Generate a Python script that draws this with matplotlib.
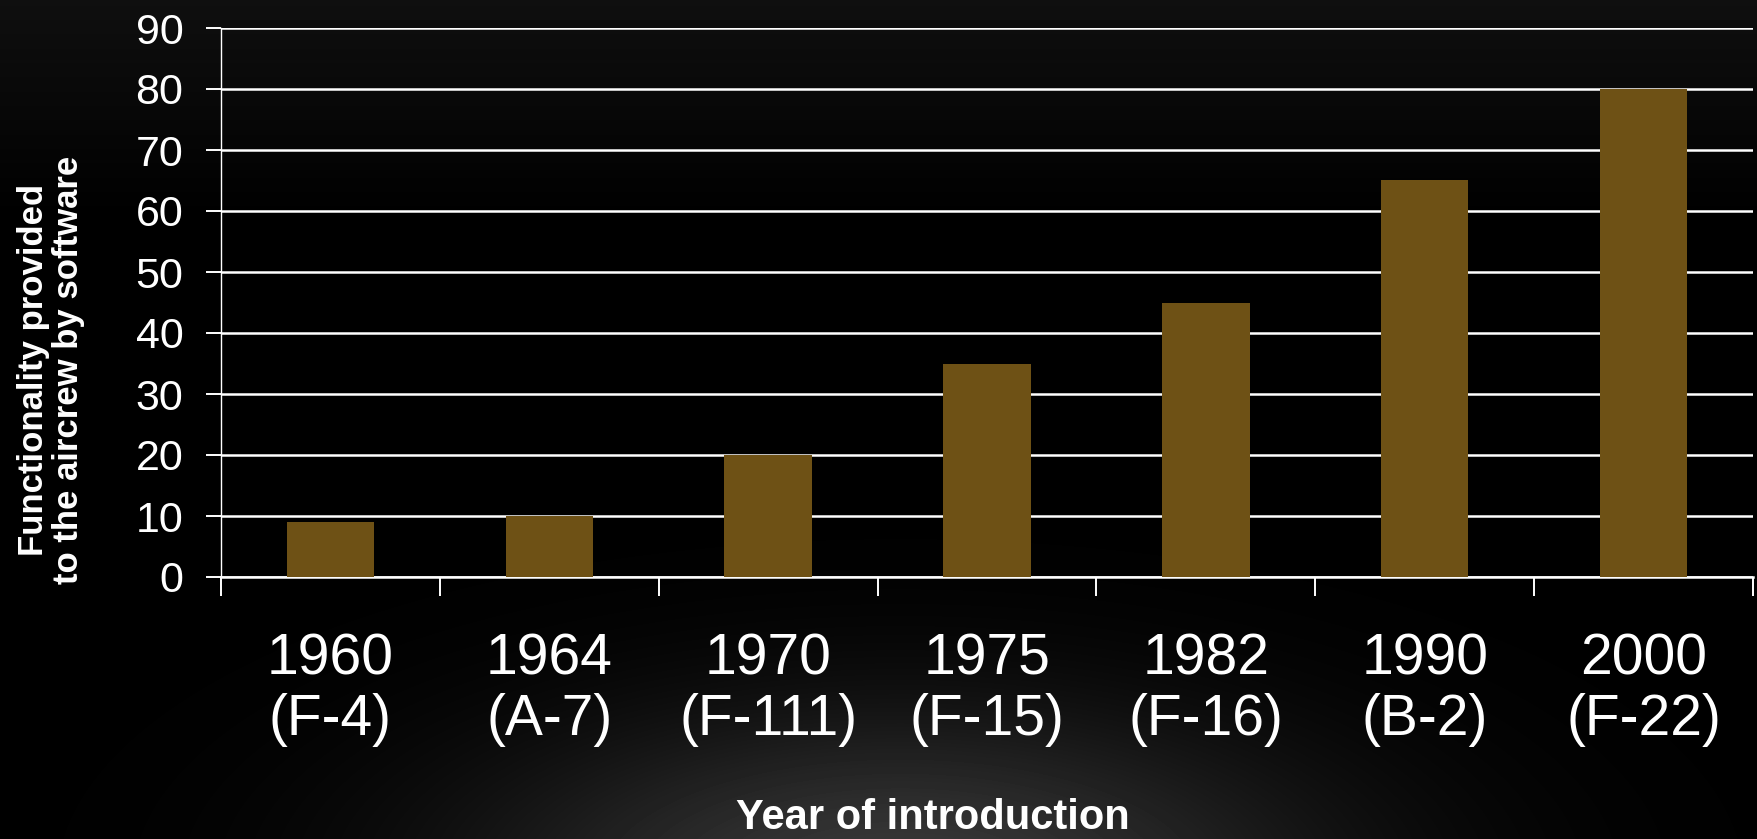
import numpy as np
import matplotlib
matplotlib.use("Agg")
import matplotlib.pyplot as plt

# ---- data ----
years = ["1960", "1964", "1970", "1975", "1982", "1990", "2000"]
aircraft = ["F-4", "A-7", "F-111", "F-15", "F-16", "B-2", "F-22"]
functionality = [9, 10, 20, 35, 45, 65, 80]

narrow = ["Liberation Sans Narrow", "Liberation Sans", "DejaVu Sans"]
wide = ["Liberation Sans", "DejaVu Sans"]

W, H = 1758, 839
fig = plt.figure(figsize=(W / 100, H / 100), dpi=100, facecolor="black")

# ---- background: dark top band + soft glow at the bottom ----
bg = fig.add_axes([0, 0, 1, 1])
bg.set_axis_off()
yy, xx = np.mgrid[0:H, 0:W]
top = 0.06 * np.clip(1 - yy / 220.0, 0, 1)
glow = 0.22 * np.exp(-(((xx - 900) / 420.0) ** 2 + ((yy - 880) / 170.0) ** 2))
img = np.clip(top + glow, 0, 1)
bg.imshow(img, cmap="gray", vmin=0, vmax=1, aspect="auto", extent=[0, 1, 0, 1])
bg.set_xlim(0, 1)
bg.set_ylim(0, 1)

# ---- chart ----
ax = fig.add_axes([221 / W, 262 / H, 1532 / W, 549 / H])
ax.patch.set_alpha(0)

x = np.arange(len(years))
ax.bar(x, functionality, width=0.4, color="#6E5115", zorder=3)

ax.set_xlim(-0.5, len(years) - 0.5)
ax.set_ylim(0, 90)
ax.set_yticks(range(0, 91, 10))
ax.grid(axis="y", color="white", linewidth=1.8, zorder=1)
ax.set_axisbelow(True)

for s in ["top", "right"]:
    ax.spines[s].set_visible(False)
ax.spines["left"].set_color("white")
ax.spines["left"].set_linewidth(1.0)
ax.spines["bottom"].set_color("white")
ax.spines["bottom"].set_linewidth(1.8)

# year labels at bar centers, tick marks between categories
ax.set_xticks(x)
ax.set_xticklabels([f"{y}\n({a})" for y, a in zip(years, aircraft)],
                   fontsize=41, family=narrow, color="white", linespacing=1.16)
ax.tick_params(axis="x", length=0, pad=40)
ax.set_xticks(np.arange(-0.5, len(years)), minor=True)
ax.tick_params(axis="x", which="minor", length=14, width=1.4, color="white")

ax.tick_params(axis="y", length=11, width=1.4, color="white", pad=16,
               labelsize=31, labelcolor="white")
for lbl in ax.get_yticklabels():
    lbl.set_family(narrow)

fig.text(51 / W, 1 - 370 / H, "Functionality provided\nto the aircrew by software",
         rotation=90, ha="center", va="center", multialignment="center",
         fontsize=25, fontweight="bold", family=wide, color="white", linespacing=1.05)

fig.text(933 / W, 1 - 818 / H, "Year of introduction", ha="center", va="center",
         fontsize=30, fontweight="bold", family=narrow, color="white")

fig.savefig("out.png", dpi=100, facecolor="black")
